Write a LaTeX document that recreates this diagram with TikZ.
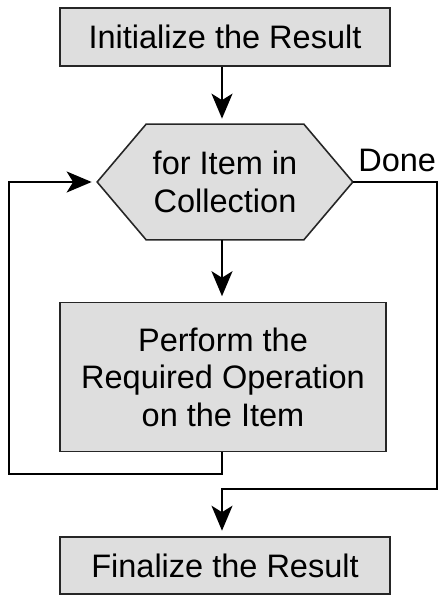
\documentclass[tikz,border=0pt]{standalone}
\usepackage{fontspec}
\setmainfont{Liberation Sans}
\usetikzlibrary{arrows.meta,backgrounds,positioning}

\begin{document}
\begin{tikzpicture}[
    box/.style={rectangle,draw=black!85,fill=black!13,line width=0.9pt,align=center,font=\fontsize{18.5}{21.3}\selectfont},
    flow/.style={-{Stealth[length=5mm,width=4.2mm,inset=1.3mm]},line width=1.1pt,shorten >=0.11cm}
  ]
    \useasboundingbox (0,0) rectangle (8.82,11.92);
    \node[box,minimum width=6.6cm,minimum height=1.16cm] (init) at (4.5,11.18) {Initialize the Result} ;
    \node[yshift=-2.9cm,align=center,font=\fontsize{18.5}{21.3}\selectfont,minimum width=3.14cm,minimum height=2.3cm] (loop) at (init) {for Item in\\Collection} ;
    \node[yshift=-3.9cm,xshift=-0.04cm,box,minimum width=6.52cm,minimum height=2.98cm] (perform) at (loop) {Perform the\\Required Operation\\on the Item} ;
    \node[box,minimum width=6.6cm,minimum height=1.14cm] (final) at (4.5,0.61) {Finalize the Result} ;
    \node[anchor=base west,inner sep=0pt,font=\fontsize{18.5}{21.3}\selectfont] (done) at (7.16,8.48) {Done} ;

    \coordinate (loopL) at ([xshift=-0.98cm]loop.west) ;
    \coordinate (loopR) at ([xshift=0.98cm]loop.east) ;
    \coordinate (backL) at (0.18,2.44) ;
    \coordinate (doneC) at (8.74,2.14) ;

    % hexagon behind the loop text
    \begin{scope}[on background layer]
        \draw[box] (loop.north west) -- (loop.north east) -- (loopR) -- (loop.south east) -- (loop.south west) -- (loopL) -- cycle ;
    \end{scope}

    \draw[flow] ([xshift=-0.06cm]init.south) -- ([xshift=-0.06cm]loop.north) ;
    \draw[flow] ([xshift=-0.06cm]loop.south) -- ([xshift=-0.06cm]loop.south |- perform.north) ;
    \draw[flow] ([xshift=-0.02cm]perform.south) |- (backL) |- (loopL) ;
    \draw[flow] (loopR) -| (doneC) -| ([xshift=-0.06cm]final.north) ;
\end{tikzpicture}
\end{document}
